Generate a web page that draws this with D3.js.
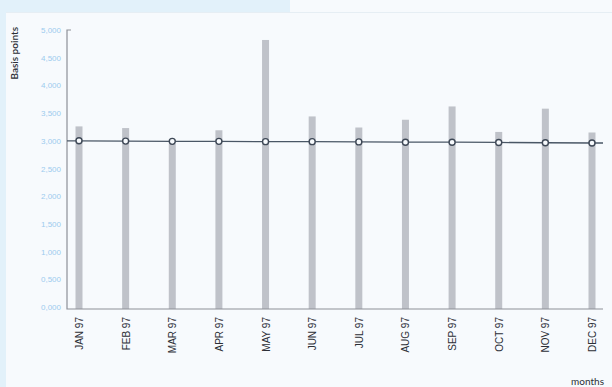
<!DOCTYPE html>
<html>
<head>
<meta charset="utf-8">
<script src="https://cdn.jsdelivr.net/npm/d3@7"></script>
<style>
  html, body { margin: 0; padding: 0; background: #f7fafd; }
  #chart { width: 612px; height: 387px; }
</style>
</head>
<body>
<div id="chart"></div>
<script>
const months = ["JAN 97", "FEB 97", "MAR 97", "APR 97", "MAY 97", "JUN 97",
  "JUL 97", "AUG 97", "SEP 97", "OCT 97", "NOV 97", "DEC 97"];
const barValues = [3260, 3230, 2950, 3190, 4820, 3440, 3240, 3380, 3620, 3160, 3580, 3150];
const lineValues = [3000, 2995, 2990, 2990, 2985, 2985, 2980, 2975, 2975, 2970, 2965, 2960];
const yTicks = [0, 500, 1000, 1500, 2000, 2500, 3000, 3500, 4000, 4500, 5000];

const width = 612, height = 387;
const margin = { top: 30, right: 9, bottom: 80, left: 67 };

const svg = d3.select("#chart")
  .append("svg")
    .attr("width", width)
    .attr("height", height)
    .style("font-family", "Lato, 'Open Sans', sans-serif");

// panel background + light blue frame
svg.append("rect").attr("width", width).attr("height", height).attr("fill", "#f7fafd");
svg.append("rect").attr("x", 0).attr("y", 0).attr("width", 290).attr("height", 12).attr("fill", "#e2f1fa");
svg.append("rect").attr("x", 0).attr("y", 0).attr("width", 6).attr("height", height).attr("fill", "#e2f1fa");
svg.append("line")
  .attr("x1", 6).attr("x2", width).attr("y1", 12.5).attr("y2", 12.5)
  .attr("stroke", "#e6eef4").attr("stroke-width", 1);

const x = d3.scalePoint()
  .domain(months)
  .range([79, 592]);

const y = d3.scaleLinear()
  .domain([0, 5000])
  .range([307, 30]);

const axisBottomY = 309;

// bars
svg.selectAll("rect.bar")
  .data(months)
  .join("rect")
    .attr("class", "bar")
    .attr("x", d => x(d) - 3.5)
    .attr("width", 7)
    .attr("y", (d, i) => y(barValues[i]))
    .attr("height", (d, i) => axisBottomY - y(barValues[i]))
    .attr("fill", "#bfc2c9");

// y axis, labels like "3,000"
const yAxis = d3.axisLeft(y)
  .tickValues(yTicks)
  .tickSize(0)
  .tickPadding(6)
  .tickFormat(d => `${Math.floor(d / 1000)},${String(d % 1000).padStart(3, "0")}`);

const yG = svg.append("g")
  .attr("transform", `translate(${margin.left},0)`)
  .call(yAxis);
yG.select(".domain").remove();
yG.selectAll("text")
  .attr("fill", "#9ccbee")
  .attr("font-size", 8);

// axis frame
svg.append("path")
  .attr("d", `M${margin.left + 4},${y(5000)}H${margin.left}V${axisBottomY}H603`)
  .attr("fill", "none")
  .attr("stroke", "#8d9098")
  .attr("stroke-width", 1.2);

// x axis labels
const xAxis = d3.axisBottom(x).tickSize(0).tickPadding(0);
const xG = svg.append("g")
  .attr("transform", `translate(0,${axisBottomY})`)
  .call(xAxis);
xG.select(".domain").remove();
xG.selectAll("text")
  .attr("transform", "rotate(-90)")
  .attr("text-anchor", "end")
  .attr("x", -8)
  .attr("y", 0)
  .attr("dy", "0.35em")
  .attr("fill", "#2c2f36")
  .attr("font-size", 10);

// line series
const line = d3.line()
  .x((d, i) => x(months[i]))
  .y(d => y(d));

const linePts = lineValues.map((v, i) => ({ m: months[i], v }));
svg.append("path")
  .datum(lineValues)
  .attr("d", d => `M${margin.left},${y(d[0])}L` + line(d).slice(1) + `L603,${y(d[d.length - 1])}`)
  .attr("fill", "none")
  .attr("stroke", "#4a5766")
  .attr("stroke-width", 1.3);

svg.selectAll("circle.pt")
  .data(linePts)
  .join("circle")
    .attr("class", "pt")
    .attr("cx", d => x(d.m))
    .attr("cy", d => y(d.v))
    .attr("r", 3)
    .attr("fill", "#f7fafd")
    .attr("stroke", "#3e4856")
    .attr("stroke-width", 1.4);

// axis titles
svg.append("text")
  .attr("transform", "rotate(-90)")
  .attr("x", -27)
  .attr("y", 18)
  .attr("text-anchor", "end")
  .attr("font-size", 10)
  .attr("font-weight", 600)
  .attr("fill", "#2c2f36")
  .text("Basis points");

svg.append("text")
  .attr("x", 604)
  .attr("y", 385)
  .attr("text-anchor", "end")
  .attr("font-size", 10)
  .attr("fill", "#2c2f36")
  .text("months");
</script>
</body>
</html>
